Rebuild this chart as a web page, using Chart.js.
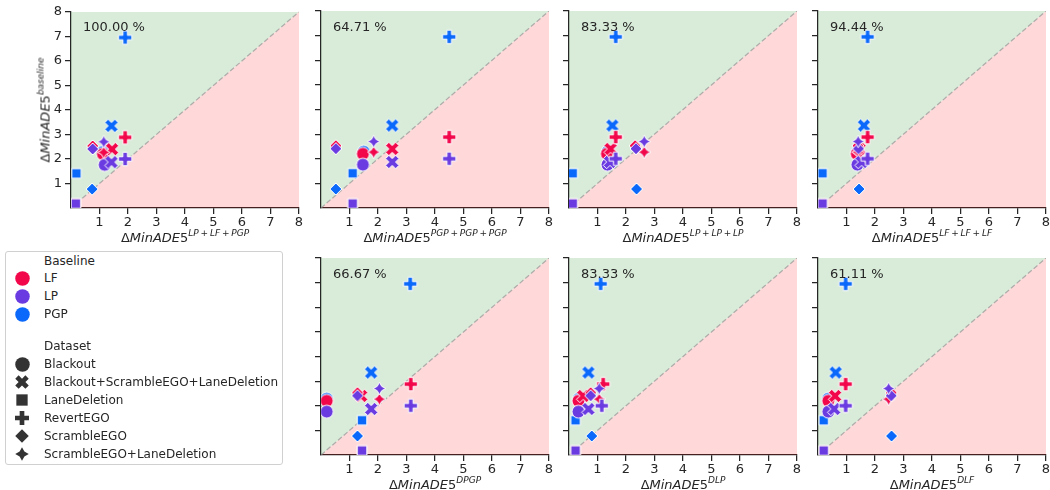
<!DOCTYPE html>
<html lang="en">
<head>
<meta charset="UTF-8">
<title>MinADE5 comparison</title>
<script src="https://cdn.jsdelivr.net/npm/chart.js@4.4.1/dist/chart.umd.min.js"></script>
<style>
  body { margin: 0; background: #fff; font-family: 'DejaVu Sans', sans-serif; color: #262626; }
  #page { position: relative; width: 1050px; height: 490px; overflow: hidden; }
  canvas.panel { position: absolute; }
  .xtitle, .ytitle, .pct { position: absolute; font-size: 13px; line-height: 13px; white-space: nowrap; }
  .xtitle { transform: translate(-50%, -50%); }
  .ytitle { transform: translate(-50%, -50%) rotate(-90deg); }
  sup { font-size: 9px; vertical-align: baseline; position: relative; top: -6px; }
  #legend { position: absolute; left: 5px; top: 251px; width: 278px; height: 214px; border: 1px solid #d0d0d0; border-radius: 3px; box-sizing: border-box; }
  .lrow { position: absolute; left: 38px; height: 18px; line-height: 18px; font-size: 12px; white-space: nowrap; }
  .lmark { position: absolute; }
</style>
</head>
<body>
<div id="page">
  <div id="legend"></div>
</div>

<script>
// categories
const baselines = ['LF', 'LP', 'PGP'];
const datasetNames = ['Blackout', 'Blackout+ScrambleEGO+LaneDeletion', 'LaneDeletion', 'RevertEGO', 'ScrambleEGO', 'ScrambleEGO+LaneDeletion'];
const baselineColors = ['#f2074b', '#6a3be0', '#0a68fa'];
const markerShapes = ['circle', 'x', 'square', 'plus', 'diamond', 'star'];

// y: ΔMinADE5 of the baseline (same in every panel), order of datasetNames
const yLF  = [2.20, 2.40, 0.18, 2.88, 2.53, 2.27];
const yLP  = [1.76, 1.87, 0.18, 2.00, 2.41, 2.70];
const yPGP = [2.28, 3.35, 1.41, 6.95, 0.77, 2.27];

// x per panel
const lfX1  = [1.12, 1.44, 0.17, 1.90, 0.76, 1.15];
const lpX1  = [1.18, 1.42, 0.17, 1.90, 0.76, 1.15];
const pgpX1 = [1.12, 1.42, 0.19, 1.90, 0.74, 1.15];

const lfX2  = [1.47, 2.50, 1.11, 4.50, 0.52, 1.85];
const lpX2  = [1.47, 2.50, 1.11, 4.50, 0.52, 1.85];
const pgpX2 = [1.50, 2.50, 1.11, 4.50, 0.52, 1.85];

const lfX3  = [1.33, 1.46, 0.13, 1.64, 2.32, 2.64];
const lpX3  = [1.35, 1.44, 0.13, 1.64, 2.35, 2.64];
const pgpX3 = [1.35, 1.52, 0.13, 1.64, 2.37, 2.64];

const lfX4  = [1.36, 1.45, 0.16, 1.74, 1.40, 1.41];
const lpX4  = [1.38, 1.53, 0.16, 1.74, 1.42, 1.41];
const pgpX4 = [1.38, 1.61, 0.16, 1.74, 1.44, 1.41];

const lfX5  = [0.20, 1.41, 1.44, 3.15, 1.28, 2.05];
const lpX5  = [0.20, 1.76, 1.44, 3.15, 1.28, 2.05];
const pgpX5 = [0.20, 1.76, 1.44, 3.13, 1.28, 2.05];

const lfX6  = [0.33, 0.50, 0.23, 1.20, 0.76, 1.06];
const lpX6  = [0.33, 0.68, 0.23, 1.15, 0.76, 1.06];
const pgpX6 = [0.35, 0.68, 0.23, 1.11, 0.80, 1.06];

const lfX7  = [0.36, 0.60, 0.20, 0.97, 2.57, 2.48];
const lpX7  = [0.36, 0.57, 0.20, 0.97, 2.57, 2.48];
const pgpX7 = [0.36, 0.62, 0.20, 0.97, 2.58, 2.48];

const xSuperscripts = ['LP + LF + PGP', 'PGP + PGP + PGP', 'LP + LP + LP', 'LF + LF + LF', 'DPGP', 'DLP', 'DLF'];
const percentLabels = ['100.00 %', '64.71 %', '83.33 %', '94.44 %', '66.67 %', '83.33 %', '61.11 %'];
const tickValues = [1, 2, 3, 4, 5, 6, 7, 8];

// layout of plot areas
const plotW = 228, plotH = 197;
const panelPos = [[71, 11], [321, 11], [569, 11], [818, 11], [321, 258], [569, 258], [818, 258]];
const panelX = [[lfX1, lpX1, pgpX1], [lfX2, lpX2, pgpX2], [lfX3, lpX3, pgpX3], [lfX4, lpX4, pgpX4],
                [lfX5, lpX5, pgpX5], [lfX6, lpX6, pgpX6], [lfX7, lpX7, pgpX7]];
const baselineY = [yLF, yLP, yPGP];

const shapeSize = {circle: 13, x: 13.5, square: 13.5, plus: 13.5, diamond: 12, star: 12.5};
const legendSize = {circle: 14.5, x: 13.5, square: 16, plus: 14, diamond: 13.5, star: 13.5};

function makeMarker(shape, color, ms, edge) {
    const size = Math.ceil(ms + 6);
    const c = document.createElement('canvas');
    c.width = size; c.height = size;
    const g = c.getContext('2d');
    g.translate(size / 2, size / 2);
    const r = ms / 2;
    let pts = [];
    g.beginPath();
    if (shape === 'circle') {
        g.arc(0, 0, r, 0, Math.PI * 2);
    } else {
        if (shape === 'square') { const h = r * Math.SQRT1_2; pts = [[-h, -h], [h, -h], [h, h], [-h, h]]; }
        if (shape === 'diamond') pts = [[0, -r], [r, 0], [0, r], [-r, 0]];
        if (shape === 'star') {
            for (let i = 0; i < 8; i++) {
                const a = -Math.PI / 2 + i * Math.PI / 4;
                const rr = i % 2 ? r * 0.5 : r;
                pts.push([rr * Math.cos(a), rr * Math.sin(a)]);
            }
        }
        if (shape === 'plus') {
            pts = [[-1, -3], [1, -3], [1, -1], [3, -1], [3, 1], [1, 1], [1, 3], [-1, 3], [-1, 1], [-3, 1], [-3, -1], [-1, -1]]
                .map(p => [p[0] * r / 3, p[1] * r / 3]);
        }
        if (shape === 'x') {
            pts = [[-1, -2], [0, -1], [1, -2], [2, -1], [1, 0], [2, 1], [1, 2], [0, 1], [-1, 2], [-2, 1], [-1, 0], [-2, -1]]
                .map(p => [p[0] * r / 2, p[1] * r / 2]);
        }
        pts.forEach((p, i) => i ? g.lineTo(p[0], p[1]) : g.moveTo(p[0], p[1]));
        g.closePath();
    }
    g.fillStyle = color;
    g.fill();
    if (edge) {
        g.lineWidth = 1;
        g.strokeStyle = '#fff';
        g.lineJoin = 'miter';
        g.stroke();
    }
    return c;
}

const markerImgs = baselineColors.map(col => markerShapes.map(s => makeMarker(s, col, shapeSize[s], true)));

const page = document.getElementById('page');
const tickFont = {family: "'DejaVu Sans'", size: 13};
const inkColor = '#262626';

function mathTitle(sup) {
    const parts = sup.split(' + ').map(p => '<i>' + p + '</i>').join('&thinsp;+&thinsp;');
    return '&Delta;<i>MinADE</i>5<sup>' + parts + '</sup>';
}

const padLeft = 40, padTop = 10, padRight = 10, padBottom = 22;

panelPos.forEach((pos, k) => {
    const [pl, pt] = pos;
    const cv = document.createElement('canvas');
    cv.className = 'panel';
    cv.width = padLeft + plotW + padRight;
    cv.height = padTop + plotH + padBottom;
    cv.style.left = (pl - padLeft) + 'px';
    cv.style.top = (pt - padTop) + 'px';
    page.appendChild(cv);

    const showY = k === 0;
    const datasets = [
        {type: 'line', data: [{x: 0, y: 0}, {x: 8, y: 8}], fill: 'end', backgroundColor: 'rgba(0,128,0,0.15)',
         borderColor: 'rgba(150,150,150,0.7)', borderWidth: 1.3, borderDash: [5, 2.5], pointRadius: 0, order: 10},
        {type: 'line', data: [{x: 0, y: 0}, {x: 8, y: 8}], fill: 'start', backgroundColor: 'rgba(255,0,0,0.15)',
         borderWidth: 0, pointRadius: 0, order: 11}
    ];
    const drawOrder = [2, 1, 3]; // PGP below, LF, LP on top
    baselines.forEach((b, bi) => {
        datasets.push({
            label: b,
            data: panelX[k][bi].map((x, i) => ({x: x, y: baselineY[bi][i]})),
            pointStyle: markerImgs[bi],
            pointRadius: 6,
            order: drawOrder[bi]
        });
    });

    const axis = (isX) => ({
        type: 'linear', min: 0, max: 8,
        afterBuildTicks: s => { s.ticks = tickValues.map(v => ({value: v})); },
        afterFit: s => { if (isX) s.height = padBottom; else s.width = padLeft; },
        ticks: {display: isX || showY, font: tickFont, color: inkColor, padding: isX ? 1 : 3, maxRotation: 0, autoSkip: false},
        grid: {drawOnChartArea: false, drawTicks: true, tickLength: 6, color: inkColor, lineWidth: 1.25},
        border: {display: true, color: inkColor, width: 1.25}
    });

    new Chart(cv, {
        type: 'scatter',
        data: {datasets: datasets},
        options: {
            responsive: false,
            animation: false,
            events: [],
            layout: {padding: {left: 0, top: padTop, right: padRight, bottom: 0}},
            plugins: {legend: {display: false}, tooltip: {enabled: false}},
            scales: {x: axis(true), y: axis(false)}
        }
    });

    const xt = document.createElement('div');
    xt.className = 'xtitle';
    xt.innerHTML = mathTitle(xSuperscripts[k]);
    xt.style.left = (pl + plotW / 2) + 'px';
    xt.style.top = (pt + plotH + 30) + 'px';
    page.appendChild(xt);

    const pc = document.createElement('div');
    pc.className = 'pct';
    pc.textContent = percentLabels[k];
    pc.style.left = (pl + 12) + 'px';
    pc.style.top = (pt + 9) + 'px';
    page.appendChild(pc);
});

const yt = document.createElement('div');
yt.className = 'ytitle';
yt.innerHTML = '&Delta;<i>MinADE</i>5<sup><i>baseline</i></sup>';
yt.style.left = '46px';
yt.style.top = '110px';
page.appendChild(yt);

// legend
const legend = document.getElementById('legend');
const legendRows = [
    ['Baseline', null, null, 8.7],
    ['LF', 'circle', baselineColors[0], 26.3],
    ['LP', 'circle', baselineColors[1], 44],
    ['PGP', 'circle', baselineColors[2], 62],
    ['Dataset', null, null, 94]
];
datasetNames.forEach((n, i) => legendRows.push([n, markerShapes[i], '#333333', 112 + i * 17.9]));

legendRows.forEach(row => {
    const [text, shape, color, cy] = row;
    const d = document.createElement('div');
    d.className = 'lrow';
    d.style.top = (cy - 9) + 'px';
    d.textContent = text;
    legend.appendChild(d);
    if (shape) {
        const m = makeMarker(shape, color, legendSize[shape], false);
        m.className = 'lmark';
        m.style.left = (16 - m.width / 2) + 'px';
        m.style.top = (cy - m.height / 2) + 'px';
        legend.appendChild(m);
    }
});
</script>
</body>
</html>
